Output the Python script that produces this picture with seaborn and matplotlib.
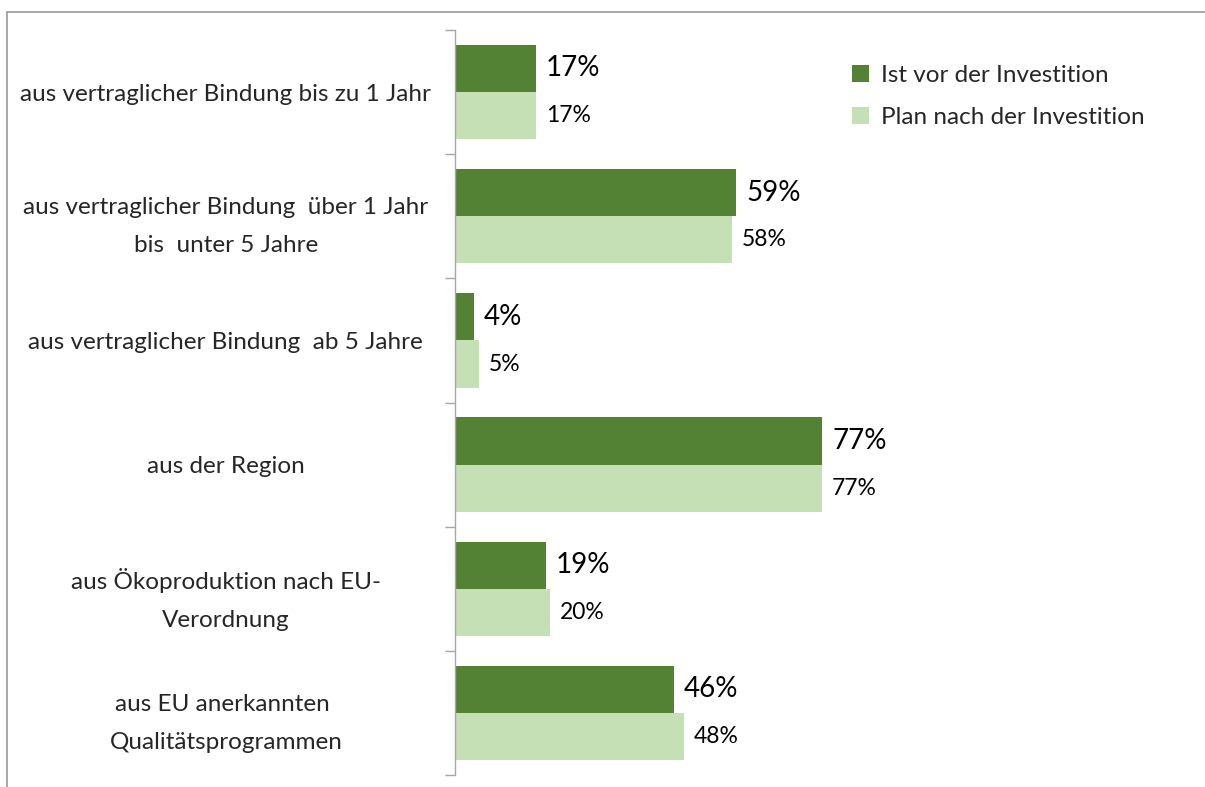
import numpy as np
import pandas as pd
import seaborn as sns
import matplotlib.pyplot as plt
from matplotlib.lines import Line2D
from matplotlib.patches import Patch

# Data
categories = [
    'aus vertraglicher Bindung bis zu 1 Jahr',
    'aus vertraglicher Bindung  über 1 Jahr\nbis  unter 5 Jahre',
    'aus vertraglicher Bindung  ab 5 Jahre',
    'aus der Region',
    'aus Ökoproduktion nach EU-\nVerordnung',
    'aus EU anerkannten \nQualitätsprogrammen',
]
series_names = ['Ist vor der Investition', 'Plan nach der Investition']
ist_values = [17, 59, 4, 77, 19, 46]
plan_values = [17, 58, 5, 77, 20, 48]

colors = ['#548235', '#C5E0B4']

df = pd.DataFrame({
    'Kategorie': categories * 2,
    'Serie': [series_names[0]] * len(categories) + [series_names[1]] * len(categories),
    'Wert': ist_values + plan_values,
})

sns.set_style('white')
plt.rcParams['font.family'] = ['Lato', 'DejaVu Sans']

fig = plt.figure(figsize=(12.05, 7.87), dpi=100)
ax = fig.add_axes([455 / 1205, 1 - 775 / 787, 477 / 1205, 745 / 787])

sns.barplot(data=df, x='Wert', y='Kategorie', hue='Serie', orient='h',
            palette=colors, width=0.76, saturation=1, linewidth=0,
            ax=ax, legend=False)

ax.set_xlim(0, 100)
ax.set_ylim(len(categories) - 0.5, -0.5)
ax.set_xlabel('')
ax.set_ylabel('')
ax.set_xticks([])

# value labels
for i, cont in enumerate(ax.containers):
    size = 20 if i == 0 else 16.5
    ax.bar_label(cont, labels=[f'{v:.0f}%' for v in cont.datavalues],
                 padding=7, fontsize=size, color='#000000')

# category labels centred about 230 px left of the axis
ax.set_yticks(range(len(categories)))
ax.set_yticklabels(categories, fontsize=17.5, ha='center', multialignment='center',
                   linespacing=2.0)
ax.tick_params(axis='y', which='major', length=0, pad=165)

# short ticks at the category boundaries
ax.set_yticks(np.arange(-0.5, len(categories)), minor=True)
ax.tick_params(axis='y', which='minor', length=7, color='#a6a6a6', width=1, left=True)

sns.despine(ax=ax, top=True, right=True, bottom=True, left=False)
ax.spines['left'].set_color('#a6a6a6')
ax.spines['left'].set_linewidth(1)

# legend
handles = [Patch(facecolor=c, edgecolor='none') for c in colors]
fig.legend(handles, series_names, loc='upper left', bbox_to_anchor=(830 / 1205, 1 - 43 / 787),
           frameon=False, fontsize=17.5, handlelength=0.7, handleheight=0.7,
           handletextpad=0.5, labelspacing=0.85)

# frame lines (top and left only)
fig.add_artist(Line2D([7 / 1205, 1], [1 - 12 / 787, 1 - 12 / 787], color='#999999', lw=1.2))
fig.add_artist(Line2D([7 / 1205, 7 / 1205], [0, 1 - 12 / 787], color='#999999', lw=1.2))

fig.savefig('out.png', dpi=100)
